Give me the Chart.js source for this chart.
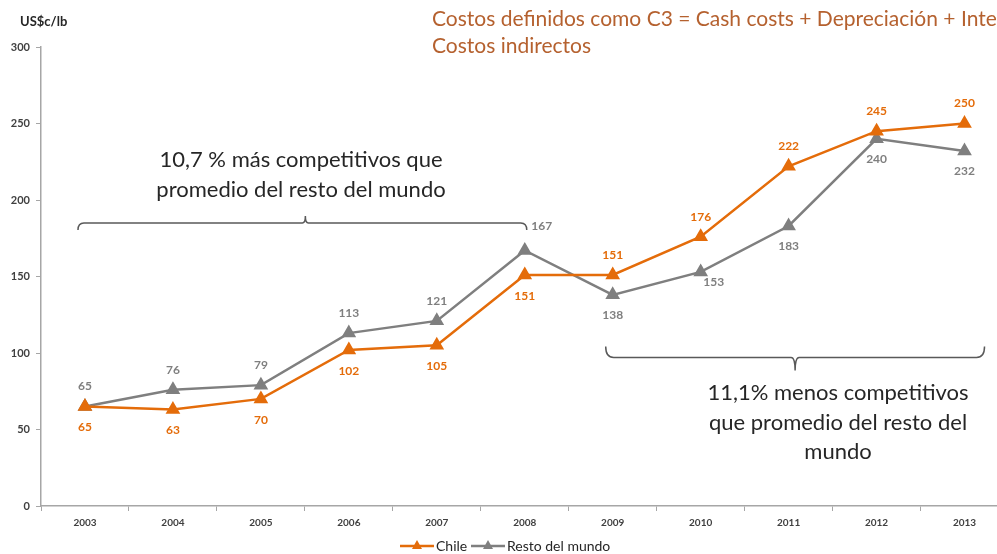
<!DOCTYPE html>
<html>
<head>
<meta charset="utf-8">
<script src="https://cdn.jsdelivr.net/npm/chart.js@4"></script>
<style>
  html, body { margin: 0; padding: 0; background: #fff; overflow: hidden; }
  #wrap { position: relative; width: 1017px; height: 554px; }
  #title { position: absolute; left: 432px; top: 4px; font: 21px Lato, sans-serif; color: #b5612f; line-height: 27px; white-space: nowrap; }
  #unit { position: absolute; left: 20px; top: 13px; font: bold 13px Lato, sans-serif; color: #262626; }
</style>
</head>
<body>
<div id="wrap">
  <canvas id="chart" width="1017" height="554"></canvas>
  <div id="unit">US$c/lb</div>
  <div id="title">Costos definidos como C3 = Cash costs + Depreciación + Inte<br>Costos indirectos</div>
</div>
<script>
const years = ['2003', '2004', '2005', '2006', '2007', '2008', '2009', '2010', '2011', '2012', '2013'];
const chile = [65, 63, 70, 102, 105, 151, 151, 176, 222, 245, 250];
const restoMundo = [65, 76, 79, 113, 121, 167, 138, 153, 183, 240, 232];
const yTicks = [0, 50, 100, 150, 200, 250, 300];

const ORANGE = '#e46c0a';
const GRAY = '#7f7f7f';

// where each value label sits relative to its point: [dx, dy]
const chileLabelPos = [[0, 21], [0, 21], [0, 21], [0, 21], [0, 21], [0, 21], [0, -20], [0, -20], [0, -20], [0, -20], [0, -20]];
const restoLabelPos = [[0, -20], [0, -20], [0, -20], [0, -20], [0, -20], [17, -24], [0, 20], [13, 10], [0, 20], [0, 20], [0, 20]];

const valueLabels = {
  id: 'valueLabels',
  afterDatasetsDraw(chart) {
    const ctx = chart.ctx;
    ctx.save();
    ctx.font = 'bold 12px Lato, sans-serif';
    ctx.textAlign = 'center';
    ctx.textBaseline = 'middle';
    chart.data.datasets.forEach((ds, i) => {
      const meta = chart.getDatasetMeta(i);
      const pos = i === 0 ? chileLabelPos : restoLabelPos;
      ctx.fillStyle = i === 0 ? ORANGE : GRAY;
      meta.data.forEach((pt, j) => {
        ctx.fillText(String(ds.data[j]), pt.x + pos[j][0], pt.y + pos[j][1]);
      });
    });
    ctx.restore();
  }
};

const notes = {
  id: 'notes',
  afterDraw(chart) {
    const ctx = chart.ctx;
    const x = chart.scales.x, y = chart.scales.y;
    ctx.save();
    ctx.strokeStyle = '#595959';
    ctx.lineWidth = 1.5;

    // bracket over 2003-2008 (opens downward)
    let x1 = x.getPixelForValue(0) - 7, x2 = x.getPixelForValue(5) + 2;
    let yb = y.getPixelForValue(185);
    let xm = (x1 + x2) / 2 + 3;
    ctx.beginPath();
    ctx.moveTo(x1, yb + 7);
    ctx.quadraticCurveTo(x1, yb, x1 + 6, yb);
    ctx.lineTo(xm - 3, yb);
    ctx.quadraticCurveTo(xm, yb, xm, yb - 7);
    ctx.quadraticCurveTo(xm, yb, xm + 3, yb);
    ctx.lineTo(x2 - 6, yb);
    ctx.quadraticCurveTo(x2, yb, x2, yb + 7);
    ctx.stroke();

    // bracket under 2009-2013 (opens upward)
    x1 = x.getPixelForValue(6) - 7; x2 = x.getPixelForValue(10) + 20;
    yb = y.getPixelForValue(97);
    xm = (x1 + x2) / 2;
    ctx.beginPath();
    ctx.moveTo(x1, yb - 11);
    ctx.quadraticCurveTo(x1, yb, x1 + 8, yb);
    ctx.lineTo(xm - 4, yb);
    ctx.quadraticCurveTo(xm, yb, xm, yb + 13);
    ctx.quadraticCurveTo(xm, yb, xm + 4, yb);
    ctx.lineTo(x2 - 8, yb);
    ctx.quadraticCurveTo(x2, yb, x2, yb - 11);
    ctx.stroke();

    ctx.fillStyle = '#262626';
    ctx.font = '22px Lato, sans-serif';
    ctx.textAlign = 'center';
    ctx.textBaseline = 'middle';
    ctx.fillText('10,7 % más competitivos que', 301, 160);
    ctx.fillText('promedio del resto del mundo', 301, 190);
    ctx.fillText('11,1% menos competitivos', 838, 393);
    ctx.fillText('que promedio del resto del', 838, 423);
    ctx.fillText('mundo', 838, 452);

    // legend
    const ly = 546;
    const items = [['Chile', ORANGE, 400], ['Resto del mundo', GRAY, 471]];
    ctx.font = '14px Lato, sans-serif';
    ctx.textAlign = 'left';
    items.forEach(([label, color, lx]) => {
      ctx.strokeStyle = color;
      ctx.fillStyle = color;
      ctx.lineWidth = 2.5;
      ctx.beginPath();
      ctx.moveTo(lx, ly);
      ctx.lineTo(lx + 34, ly);
      ctx.stroke();
      ctx.beginPath();
      ctx.moveTo(lx + 17, ly - 6);
      ctx.lineTo(lx + 22, ly + 3);
      ctx.lineTo(lx + 12, ly + 3);
      ctx.closePath();
      ctx.fill();
      ctx.fillStyle = '#262626';
      ctx.fillText(label, lx + 36, ly);
    });
    ctx.restore();
  }
};

new Chart(document.getElementById('chart'), {
  type: 'line',
  data: {
    labels: years,
    datasets: [
      {
        label: 'Chile',
        data: chile,
        borderColor: ORANGE,
        backgroundColor: ORANGE,
        borderWidth: 2.5,
        pointStyle: 'triangle',
        pointRadius: 6,
        pointHoverRadius: 6,
        tension: 0
      },
      {
        label: 'Resto del mundo',
        data: restoMundo,
        borderColor: GRAY,
        backgroundColor: GRAY,
        borderWidth: 2.5,
        pointStyle: 'triangle',
        pointRadius: 6,
        pointHoverRadius: 6,
        tension: 0
      }
    ]
  },
  options: {
    responsive: false,
    animation: false,
    layout: { padding: { top: 47, right: 3, left: 0, bottom: 0 } },
    plugins: { legend: { display: false }, tooltip: { enabled: false } },
    scales: {
      x: {
        offset: true,
        grid: { offset: true, drawOnChartArea: false, tickLength: 5, color: '#a6a6a6' },
        border: { color: '#a6a6a6', width: 1.5 },
        ticks: { font: { family: 'Lato', size: 10, weight: 'bold' }, color: '#404040', padding: 6 },
        afterFit(s) { s.height = 48; }
      },
      y: {
        min: 0,
        max: 300,
        afterBuildTicks(s) { s.ticks = yTicks.map(v => ({ value: v })); },
        grid: { drawOnChartArea: false, tickLength: 5, color: '#a6a6a6' },
        border: { color: '#a6a6a6', width: 1.5 },
        ticks: { font: { family: 'Lato', size: 11, weight: 'bold' }, color: '#404040', padding: 6 },
        afterFit(s) { s.width = 41; }
      }
    }
  },
  plugins: [valueLabels, notes]
});
</script>
</body>
</html>
